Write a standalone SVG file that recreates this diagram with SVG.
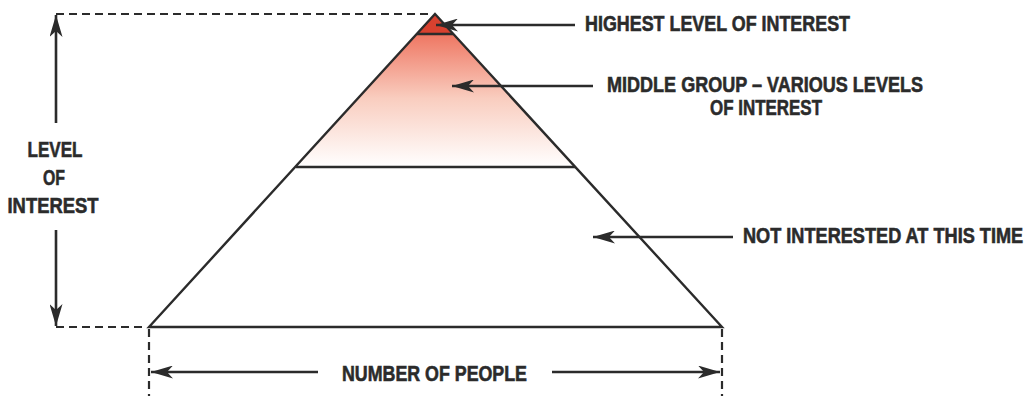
<svg xmlns="http://www.w3.org/2000/svg" width="1032" height="396" viewBox="0 0 1032 396">
<style>
.lbl{font-family:"Liberation Sans",Arial,sans-serif;font-weight:bold;font-size:22px;fill:#2b2b2b;stroke:#2b2b2b;stroke-width:0.6}
.ln{stroke:#2b2b2b;stroke-width:2.6;fill:none}
.edge{stroke:#2b2b2b;stroke-width:2.4;fill:none}
.dash{stroke:#2b2b2b;stroke-width:2.2;fill:none;stroke-dasharray:8 5}
</style>
<defs>
<linearGradient id="g" x1="0" y1="14" x2="0" y2="167" gradientUnits="userSpaceOnUse">
<stop offset="0" stop-color="#e2513f"/>
<stop offset="0.15" stop-color="#ef7a66"/>
<stop offset="0.55" stop-color="#f9cdbf"/>
<stop offset="1" stop-color="#ffffff"/>
</linearGradient>
<marker id="ah" viewBox="0 0 22 13" refX="22" refY="6.5" markerWidth="22" markerHeight="13" markerUnits="userSpaceOnUse" orient="auto">
<path d="M22,6.5 L0,0 L6,6.5 L0,13 Z" fill="#2b2b2b"/>
</marker>
</defs>
<rect width="1032" height="396" fill="#ffffff"/>
<g id="pyramid">
<polygon points="435,14 575,167 296,167" fill="url(#g)"/>
<polygon points="435,14 453,34 417,34" fill="#d8412f"/>
<polygon class="edge" points="435,14 722,327 149,327"/>
<line class="edge" x1="296" y1="167" x2="575" y2="167"/>
<line class="edge" x1="417" y1="34" x2="453" y2="34"/>
</g>
<g id="guides">
<line class="dash" x1="56" y1="14" x2="433" y2="14"/>
<line class="dash" x1="56" y1="327" x2="147" y2="327"/>
<line class="dash" x1="149" y1="329" x2="149" y2="396"/>
<line class="dash" x1="722" y1="329" x2="722" y2="396"/>
</g>
<g id="connectors">
<line class="ln" x1="56" y1="123" x2="56" y2="15" marker-end="url(#ah)"/>
<line class="ln" x1="56" y1="230" x2="56" y2="326" marker-end="url(#ah)"/>
<line class="ln" x1="318" y1="372" x2="151" y2="372" marker-end="url(#ah)"/>
<line class="ln" x1="552" y1="372" x2="720" y2="372" marker-end="url(#ah)"/>
<line class="ln" x1="575" y1="25" x2="436" y2="25" marker-end="url(#ah)"/>
<line class="ln" x1="593" y1="86" x2="452" y2="86" marker-end="url(#ah)"/>
<line class="ln" x1="733" y1="237" x2="593" y2="237" marker-end="url(#ah)"/>
</g>
<g id="label-level">
<text class="lbl" x="55" y="157" text-anchor="middle" textLength="55" lengthAdjust="spacingAndGlyphs">LEVEL</text>
<text class="lbl" x="54" y="185" text-anchor="middle" textLength="22" lengthAdjust="spacingAndGlyphs">OF</text>
<text class="lbl" x="53" y="213" text-anchor="middle" textLength="91" lengthAdjust="spacingAndGlyphs">INTEREST</text>
</g>
<g id="label-people">
<text class="lbl" x="342" y="381" textLength="185" lengthAdjust="spacingAndGlyphs">NUMBER OF PEOPLE</text>
</g>
<g id="label-highest">
<text class="lbl" x="585" y="31" textLength="265" lengthAdjust="spacingAndGlyphs">HIGHEST LEVEL OF INTEREST</text>
</g>
<g id="label-middle">
<text class="lbl" x="607" y="92" textLength="316" lengthAdjust="spacingAndGlyphs">MIDDLE GROUP – VARIOUS LEVELS</text>
<text class="lbl" x="766" y="115" text-anchor="middle" textLength="112" lengthAdjust="spacingAndGlyphs">OF INTEREST</text>
</g>
<g id="label-not">
<text class="lbl" transform="translate(743,243) scale(0.825,1)" x="0" y="0">NOT INTERESTED AT THIS TIME</text>
</g>
</svg>
